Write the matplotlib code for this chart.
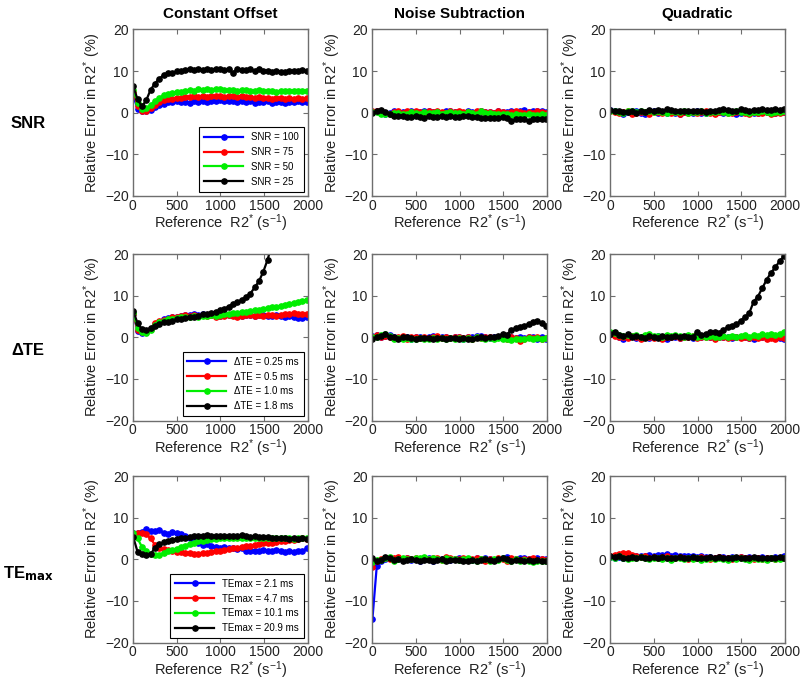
import matplotlib
matplotlib.use("Agg")
import matplotlib.pyplot as plt
import numpy as np

plt.rcParams['font.family'] = ['Liberation Sans', 'DejaVu Sans']
plt.rcParams['mathtext.fontset'] = 'custom'
plt.rcParams['mathtext.rm'] = 'Liberation Sans'
plt.rcParams['mathtext.it'] = 'Liberation Sans'

# reference R2* values (s^-1), 41 points
r2_ref = np.linspace(5, 1985, 41)

col_titles = ["Constant Offset", "Noise Subtraction", "Quadratic"]
row_titles = ["SNR", "\u0394TE", "TE$_{\\mathbf{max}}$"]
series_colors = ["#0000ff", "#ff0000", "#00ee00", "#000000"]

snr_labels = ["SNR = 100", "SNR = 75", "SNR = 50", "SNR = 25"]
dte_labels = ["\u0394TE = 0.25 ms", "\u0394TE = 0.5 ms", "\u0394TE = 1.0 ms", "\u0394TE = 1.8 ms"]
temax_labels = ["TEmax = 2.1 ms", "TEmax = 4.7 ms", "TEmax = 10.1 ms", "TEmax = 20.9 ms"]

# ---- row 1: SNR ----
snr_const_100 = [4.0, 1.0, 0.3, 0.3, 0.7, 1.3, 1.9, 2.2, 2.5, 2.6, 2.7, 2.5, 2.6, 2.4, 2.7, 2.5, 2.8, 2.6, 2.9, 2.7, 3.0,
                 2.8, 2.9, 2.7, 2.5, 2.8, 2.6, 2.7, 2.4, 2.6, 2.5, 2.7, 2.4, 2.6, 2.5, 2.3, 2.6, 2.5, 2.8, 2.6, 2.6]
snr_const_75 = [5.0, 1.6, 0.5, 0.5, 1.1, 1.9, 2.6, 3.0, 3.3, 3.4, 3.6, 3.5, 3.8, 3.7, 3.9, 3.8, 4.0, 3.8, 4.0, 3.9, 4.1,
                3.8, 4.0, 3.9, 3.8, 4.0, 3.7, 3.8, 3.6, 3.7, 3.5, 3.6, 3.4, 3.6, 3.5, 3.4, 3.6, 3.4, 3.5, 3.4, 3.5]
snr_const_50 = [5.5, 2.4, 1.0, 1.1, 1.8, 2.8, 3.6, 4.2, 4.5, 4.8, 5.0, 4.9, 5.2, 5.4, 5.3, 5.6, 5.5, 5.7, 5.5, 5.6, 5.7,
                5.5, 5.4, 5.5, 5.3, 5.4, 5.5, 5.3, 5.2, 5.4, 5.2, 5.1, 5.2, 5.0, 5.2, 5.1, 5.2, 5.3, 5.2, 5.3, 5.3]
snr_const_25 = [6.3, 3.2, 1.5, 3.0, 5.5, 7.0, 8.2, 9.0, 9.5, 9.6, 9.9, 10.0, 10.3, 10.4, 10.2, 10.5, 10.3, 10.6, 10.2, 10.5, 10.6,
                10.3, 10.4, 9.5, 10.6, 10.3, 10.2, 10.4, 10.1, 10.6, 10.0, 10.1, 9.8, 9.9, 9.8, 9.7, 9.9, 9.9, 10.1, 10.2, 9.9]

snr_noise_100 = [0.2, 0.3, 0.0, -0.2, 0.0, 0.3, 0.1, 0.2, -0.1, 0.4, 0.1, 0.2, 0.3, 0.5, 0.1, 0.2, 0.0, 0.3, 0.5, 0.1, 0.2,
                 0.0, 0.3, 0.1, -0.2, 0.3, 0.1, 0.2, 0.0, 0.3, 0.2, 0.1, 0.3, 0.1, 0.5, 0.6, 0.2, 0.3, 0.4, 0.3, 0.2]
snr_noise_75 = [0.3, 0.5, 0.1, 0.0, -0.3, 0.2, 0.4, 0.0, 0.3, 0.1, 0.5, 0.2, -0.1, 0.3, 0.2, 0.4, 0.1, 0.0, 0.3, 0.2, 0.5,
                0.1, 0.2, 0.0, 0.3, 0.4, 0.1, 0.2, -0.1, 0.3, 0.1, 0.0, 0.2, 0.4, 0.1, 0.0, 0.2, -0.1, 0.3, 0.1, 0.0]
snr_noise_50 = [0.1, 0.2, -0.2, -0.4, -0.3, -0.1, 0.0, -0.3, -0.2, 0.1, -0.1, -0.2, 0.2, 0.0, -0.1, 0.1, -0.2, 0.0, 0.2, -0.1, 0.0,
                -0.2, 0.1, 0.0, -0.2, 0.3, 0.0, -0.1, -0.3, -0.2, -0.4, -0.3, -0.5, -0.4, -0.6, -0.5, -0.4, -0.6, -0.5, -0.4, -0.5]
snr_noise_25 = [0.0, 0.3, 0.7, 0.2, -0.4, -0.7, -0.9, -0.8, -1.0, -1.1, -0.9, -1.0, -1.2, -0.9, -1.0, -1.1, -0.8, -1.0, -0.9, -1.1, -1.0,
                -0.9, -0.8, -1.0, -1.0, -1.2, -1.3, -1.3, -1.3, -1.3, -1.1, -1.2, -1.9, -1.6, -1.5, -1.6, -1.9, -1.5, -1.6, -1.6, -1.6]

snr_quad_100 = [0.6, 0.3, 0.1, -0.2, 0.2, -0.1, 0.3, 0.0, -0.2, 0.1, 0.3, 0.0, 0.2, -0.1, 0.1, 0.0, -0.2, 0.2, 0.1, 0.0, 0.3,
                -0.1, 0.0, 0.2, -0.1, 0.1, 0.0, 0.3, 0.1, -0.2, 0.0, 0.2, 0.1, -0.1, 0.0, 0.2, 0.1, -0.1, 0.0, 0.2, 0.1]
snr_quad_75 = [0.4, 0.2, -0.1, 0.1, 0.3, -0.3, 0.0, 0.2, 0.1, -0.2, 0.2, 0.1, -0.1, 0.3, 0.0, 0.2, -0.2, 0.1, 0.0, 0.2, -0.1,
               0.1, 0.3, 0.0, -0.2, 0.1, 0.2, 0.0, -0.1, 0.1, 0.3, 0.0, -0.2, 0.1, 0.0, -0.1, 0.2, -0.3, 0.0, -0.1, 0.1]
snr_quad_50 = [0.5, 0.4, 0.2, 0.0, 0.5, 0.3, 0.1, 0.4, 0.2, 0.3, 0.1, 0.4, 0.2, 0.0, 0.3, 0.1, 0.2, 0.4, 0.0, 0.2, 0.1,
               0.3, 0.0, 0.2, 0.1, 0.3, 0.2, 0.0, 0.1, 0.3, 0.2, 0.1, 0.0, 0.2, 0.1, 0.3, 0.2, 0.0, 0.1, 0.2, 0.3]
snr_quad_25 = [0.7, 0.5, 0.4, 0.1, 0.2, 0.4, 0.0, 0.3, 0.2, 0.6, 0.5, 0.7, 0.5, 0.8, 0.6, 0.4, 0.3, 0.5, 0.4, 0.3, 0.5,
               0.4, 0.2, 0.3, 0.5, 0.7, 0.9, 0.6, 0.4, 0.3, 0.8, 0.6, 0.5, 0.7, 0.6, 0.9, 0.7, 0.6, 0.8, 0.7, 0.8]

# ---- row 2: delta TE ----
dte_const_025 = [5.5, 1.6, 1.0, 1.2, 2.0, 3.3, 3.8, 4.3, 4.6, 4.9, 5.0, 5.2, 5.3, 5.4, 5.5, 5.3, 5.5, 5.4, 5.3, 5.5, 5.2,
                 5.4, 5.3, 5.5, 5.4, 5.2, 5.4, 5.3, 5.2, 5.4, 5.3, 5.1, 5.2, 5.3, 5.1, 5.0, 5.2, 4.8, 4.6, 4.7, 5.0]
dte_const_05 = [5.6, 1.8, 1.2, 1.3, 2.1, 3.4, 3.9, 4.2, 4.5, 4.8, 4.9, 5.1, 5.3, 5.2, 5.4, 5.2, 5.3, 5.1, 5.3, 5.0, 5.2,
                5.1, 5.3, 5.2, 5.0, 5.2, 5.4, 5.3, 5.1, 5.3, 5.2, 5.4, 5.3, 5.2, 5.4, 5.6, 5.5, 5.8, 5.6, 5.7, 5.5]
dte_const_10 = [5.8, 2.2, 1.2, 1.0, 1.8, 3.0, 3.6, 4.0, 4.3, 4.5, 4.6, 4.8, 4.9, 5.0, 5.1, 5.0, 5.2, 5.1, 5.3, 5.2, 5.3,
                5.5, 5.6, 5.8, 5.9, 6.0, 6.2, 6.3, 6.5, 6.6, 6.8, 7.0, 7.2, 7.4, 7.6, 7.8, 8.0, 8.2, 8.5, 8.7, 9.0]
dte_const_18 = [6.3, 3.4, 2.0, 1.8, 2.2, 2.8, 3.2, 3.6, 3.8, 4.0, 4.3, 4.5, 4.6, 4.8, 5.0, 5.2, 5.5, 5.7, 5.9, 6.1, 6.5,
                6.9, 7.4, 8.0, 8.5, 9.0, 9.7, 10.5, 12.0, 13.5, 15.8, 18.7, 22.5, 27.0, 32.0, 38.0, 44.0, 51.0, 58.0, 66.0, 75.0]

dte_noise_025 = [0.3, 0.5, 0.0, 0.4, 0.6, 0.1, -0.2, 0.2, 0.0, -0.3, 0.1, 0.2, -0.1, 0.0, 0.3, -0.2, 0.1, 0.0, -0.2, 0.1, 0.0,
                 -0.3, 0.2, 0.0, 0.3, 0.4, 0.1, -0.2, 0.0, 0.1, -0.1, 0.2, 0.0, -0.2, 0.1, -0.1, 0.2, 0.0, -0.3, 0.1, -0.4]
dte_noise_05 = [0.2, 0.6, 0.1, 0.3, 0.2, -0.2, 0.0, 0.3, -0.3, 0.1, 0.0, -0.2, 0.2, -0.1, 0.0, 0.3, -0.2, 0.1, -0.1, 0.0, 0.2,
                -0.1, 0.0, -0.3, 0.1, -0.2, 0.0, 0.2, -0.1, 0.0, 0.2, -0.3, 0.0, -0.2, -0.8, -0.3, 0.0, -0.2, 0.1, -0.4, -0.2]
dte_noise_10 = [0.1, 0.0, 0.5, 0.8, 0.3, -0.4, -0.2, -0.5, -0.1, -0.3, -0.4, -0.2, -0.5, -0.3, -0.1, -0.4, -0.2, -0.5, -0.2, -0.3, -0.1,
                -0.4, -0.2, -0.3, 0.0, -0.2, -0.4, -0.1, -0.3, -0.2, -0.5, -0.3, -0.6, -0.4, -0.3, -0.5, -0.2, -0.4, -0.1, -0.3, -0.1]
dte_noise_18 = [-0.4, 0.0, 0.3, 0.7, 0.2, 0.0, -0.3, 0.2, 0.1, -0.2, -0.3, -0.1, -0.2, -0.2, -0.4, -0.2, -0.1, -0.3, -0.2, -0.1, -0.3,
                -0.2, -0.3, -0.4, -0.2, 0.0, -0.1, 0.1, 0.0, 0.3, 0.8, 0.6, 1.8, 2.2, 2.5, 2.8, 3.2, 3.6, 4.0, 3.4, 2.8]

dte_quad_025 = [0.8, 0.5, 0.2, -0.3, 0.0, 0.3, -0.1, 0.2, 0.0, -0.2, 0.1, 0.3, 0.0, -0.3, 0.2, 0.1, -0.1, 0.0, 0.3, -0.2, 0.1,
                0.0, 0.3, 0.2, -0.1, 0.1, 0.0, 0.2, -0.2, 0.1, 0.0, 0.2, -0.1, -0.3, 0.1, 0.0, -0.2, 0.1, 0.0, -0.1, -0.3]
dte_quad_05 = [1.0, 0.3, 0.1, 0.2, -0.2, 0.4, 0.0, -0.3, 0.2, 0.1, -0.1, 0.2, -0.4, 0.1, 0.0, 0.3, -0.1, 0.2, 0.0, 0.3, -0.2,
               0.1, 0.0, 0.2, -0.3, 0.0, 0.1, -0.2, 0.0, 0.1, -0.1, 0.2, -0.2, 0.0, -0.1, 0.1, -0.4, -0.2, -0.5, 0.0, -0.2]
dte_quad_10 = [1.2, 1.0, 0.6, 0.4, 0.5, 0.3, 0.6, 0.2, 0.5, 0.7, 0.3, 0.4, 0.2, 0.5, 0.3, 0.6, 0.4, 0.2, 0.5, 0.3, 0.1,
               0.4, 0.2, 0.3, 0.0, 0.2, 0.4, 0.1, 0.3, 0.0, 0.4, 0.5, 0.2, 0.6, 0.4, 0.7, 0.5, 0.8, 0.6, 0.9, 1.2]
dte_quad_18 = [0.8, 1.2, 0.5, 0.3, 0.7, 0.2, 0.4, 0.1, -0.1, 0.3, 0.0, -0.2, 0.3, 0.0, 0.2, 0.4, 0.1, 0.3, 0.0, 0.2, 1.2,
               0.6, 0.8, 1.3, 1.2, 1.1, 1.8, 2.4, 2.8, 3.1, 4.0, 4.8, 5.8, 8.5, 9.8, 11.8, 13.8, 15.5, 16.8, 18.3, 19.5]

# ---- row 3: TEmax ----
temax_const_21 = [6.3, 6.3, 6.6, 7.2, 6.8, 6.9, 7.0, 6.4, 6.0, 6.5, 6.3, 6.1, 5.6, 5.0, 4.3, 3.8, 3.5, 3.7, 3.3, 3.0, 2.8,
                  2.9, 2.6, 2.8, 2.5, 2.6, 2.1, 2.0, 2.1, 2.0, 2.2, 2.0, 2.1, 2.3, 2.0, 1.7, 2.0, 1.8, 2.1, 2.0, 2.6]
temax_const_47 = [6.2, 6.3, 6.4, 6.0, 5.0, 3.5, 2.8, 2.5, 2.2, 2.0, 1.8, 1.7, 1.6, 1.5, 1.3, 1.2, 1.5, 1.6, 1.8, 2.0, 2.1,
                  2.3, 2.5, 2.6, 2.8, 3.0, 3.2, 3.3, 3.5, 3.6, 3.8, 3.9, 4.0, 4.2, 4.3, 4.5, 4.6, 4.7, 4.9, 5.0, 4.9]
temax_const_101 = [6.3, 5.0, 3.0, 2.0, 1.2, 1.0, 1.1, 1.5, 2.0, 2.3, 2.5, 3.0, 3.3, 3.7, 4.0, 4.3, 4.5, 4.7, 4.8, 4.9, 5.0,
                   5.1, 5.0, 5.2, 5.1, 5.2, 5.0, 5.1, 5.2, 5.0, 5.1, 5.0, 5.2, 5.0, 5.1, 5.2, 5.0, 4.9, 5.1, 5.0, 5.2]
temax_const_209 = [5.3, 1.8, 1.3, 1.0, 1.2, 2.8, 3.6, 4.1, 4.4, 4.6, 4.8, 5.0, 5.2, 5.4, 5.6, 5.5, 5.7, 5.8, 5.6, 5.5, 5.7,
                   5.6, 5.5, 5.7, 5.5, 5.8, 5.6, 5.4, 5.5, 5.3, 5.4, 5.3, 5.1, 5.2, 5.0, 5.1, 4.9, 5.0, 4.8, 5.0, 4.9]

temax_noise_21 = [-14.3, -1.6, -0.5, 0.0, 0.3, -0.2, 0.1, 0.0, 0.2, -0.1, 0.1, -0.5, 0.0, 0.2, -0.3, 0.1, 0.0, 0.2, -0.1, 0.0, 0.3,
                  0.1, 0.0, -0.2, 0.2, 0.0, 0.4, 0.1, -0.1, 0.0, 0.3, 0.5, 0.1, 0.0, 0.4, 0.2, 0.0, -0.1, 0.2, 0.1, 0.0]
temax_noise_47 = [-1.8, -0.3, 0.0, 0.3, 0.1, 0.2, 0.5, 0.0, 0.3, 0.1, 0.4, 0.0, 0.2, 0.1, 0.4, 0.3, -0.1, 0.5, 0.2, 0.1, 0.0,
                  0.2, -0.1, 0.1, 0.3, 0.0, -0.5, 0.1, -0.2, 0.3, 0.0, -0.3, 0.2, 0.0, -0.1, 0.1, 0.0, 0.2, -0.1, 0.0, -0.2]
temax_noise_101 = [-0.7, -0.2, -0.1, 0.2, 0.5, -0.3, 0.0, 0.2, 0.1, 0.0, 0.4, 0.2, 0.5, 0.0, 0.3, 0.1, -0.2, 0.2, 0.0, 0.1, -0.1,
                   0.0, 0.2, -0.2, -0.4, 0.0, 0.1, -0.3, 0.0, -0.1, 0.2, -0.2, -0.5, 0.0, -0.3, -0.1, -0.4, -0.6, -0.3, -0.5, -0.4]
temax_noise_209 = [0.2, -0.3, -0.1, 0.5, 0.3, -0.2, 0.0, -0.3, -0.1, 0.0, -0.2, -0.4, -0.2, -0.1, -0.3, -0.2, 0.0, -0.3, -0.2, -0.1, -0.2,
                   -0.3, -0.4, -0.2, -0.3, -0.1, 0.0, -0.2, -0.3, 0.0, 0.3, 0.0, -0.3, -0.1, -0.2, -0.3, -0.1, -0.4, -0.2, -0.3, -0.3]

temax_quad_21 = [0.5, 0.3, 0.6, 0.4, 0.7, 0.5, 0.8, 0.7, 0.9, 1.0, 0.8, 1.1, 1.0, 1.2, 0.9, 1.0, 0.8, 0.9, 0.7, 0.8, 0.6,
                 0.7, 0.5, 0.6, 0.4, 0.5, 0.6, 0.3, 0.5, 0.4, 0.6, 0.3, 0.5, 0.4, 0.2, 0.5, 0.3, 0.4, 0.6, 0.3, 0.9]
temax_quad_47 = [0.8, 1.0, 1.2, 1.4, 1.5, 1.0, 0.8, 0.5, 0.7, 0.4, 0.6, 0.3, 0.5, 0.7, 0.4, 0.2, 0.5, 0.3, 0.1, 0.4, 0.2,
                 0.5, 0.3, 0.0, 0.3, 0.5, 0.2, 0.4, 0.1, 0.3, 0.6, 0.2, 0.4, 0.1, 0.3, 0.0, 0.2, 0.4, 0.1, 0.3, 0.2]
temax_quad_101 = [0.6, 0.4, 0.7, 0.3, 0.1, 0.4, 0.2, 0.5, 0.3, 0.0, 0.2, 0.4, 0.1, 0.3, -0.1, 0.2, 0.4, 0.1, 0.3, 0.0, 0.2,
                  -0.2, 0.1, 0.3, 0.0, 0.2, 0.1, -0.1, 0.2, 0.0, 0.3, 0.1, -0.2, 0.2, 0.0, 0.1, -0.1, 0.2, 0.0, 0.1, 0.2]
temax_quad_209 = [0.8, 0.5, 0.7, 0.3, 0.4, 0.6, 0.2, 0.5, 0.3, 0.4, 0.6, 0.3, 0.5, 0.2, 0.4, 0.3, 0.6, 0.4, 0.2, 0.5, 0.3,
                  0.4, 0.2, 0.5, 0.3, 0.6, 0.4, 0.2, 0.3, 0.5, 0.4, 0.2, 0.3, 0.5, 0.4, 0.3, 0.2, 0.4, 0.3, 0.5, 0.4]

panels = [
    [[snr_const_100, snr_const_75, snr_const_50, snr_const_25],
     [snr_noise_100, snr_noise_75, snr_noise_50, snr_noise_25],
     [snr_quad_100, snr_quad_75, snr_quad_50, snr_quad_25]],
    [[dte_const_025, dte_const_05, dte_const_10, dte_const_18],
     [dte_noise_025, dte_noise_05, dte_noise_10, dte_noise_18],
     [dte_quad_025, dte_quad_05, dte_quad_10, dte_quad_18]],
    [[temax_const_21, temax_const_47, temax_const_101, temax_const_209],
     [temax_noise_21, temax_noise_47, temax_noise_101, temax_noise_209],
     [temax_quad_21, temax_quad_47, temax_quad_101, temax_quad_209]],
]
row_legends = [snr_labels, dte_labels, temax_labels]

fig = plt.figure(figsize=(8.0, 6.85), dpi=100)

col_left = [0.166, 0.465, 0.7625]
row_bottom = [0.714, 0.386, 0.062]
ax_w, ax_h = 0.219, 0.243
spine_col = '#6e6e6e'
text_col = '#222222'

for r in range(3):
    for c in range(3):
        ax = fig.add_axes([col_left[c], row_bottom[r], ax_w, ax_h])
        for k in range(4):
            ax.plot(r2_ref, panels[r][c][k], '-o', color=series_colors[k], lw=1.6,
                    ms=3.8, mec=series_colors[k], mfc=series_colors[k],
                    label=row_legends[r][k])
        ax.set_xlim(0, 2000)
        ax.set_ylim(-20, 20)
        ax.set_xticks([0, 500, 1000, 1500, 2000])
        ax.set_yticks([-20, -10, 0, 10, 20])
        ax.tick_params(direction='in', top=True, right=True, length=3.5,
                       width=0.8, color=spine_col, labelsize=10, labelcolor=text_col)
        ax.tick_params(axis='x', pad=2)
        ax.tick_params(axis='y', pad=3)
        for s in ax.spines.values():
            s.set_color(spine_col)
            s.set_linewidth(1.0)
        ax.set_xlabel('Reference  R2$^{*}$ (s$^{-1}$)', fontsize=10.5, color=text_col, labelpad=0)
        ax.set_ylabel('Relative Error in R2$^{*}$ (%)', fontsize=10.5, color=text_col, labelpad=1)
        if c == 0:
            leg = ax.legend(loc='lower right', fontsize=7, fancybox=False,
                            edgecolor='black', framealpha=1, handlelength=4.0,
                            borderaxespad=0.45, labelspacing=0.5, borderpad=0.5)
            leg.get_frame().set_linewidth(0.8)
        if r == 0:
            ax.set_title(col_titles[c], fontsize=11, fontweight='bold', pad=8)

row_label_y = [0.820, 0.489, 0.162]
for r in range(3):
    fig.text(0.035, row_label_y[r], row_titles[r], fontsize=12, fontweight='bold',
             ha='center', va='center')

fig.savefig('out.png', dpi=100)
